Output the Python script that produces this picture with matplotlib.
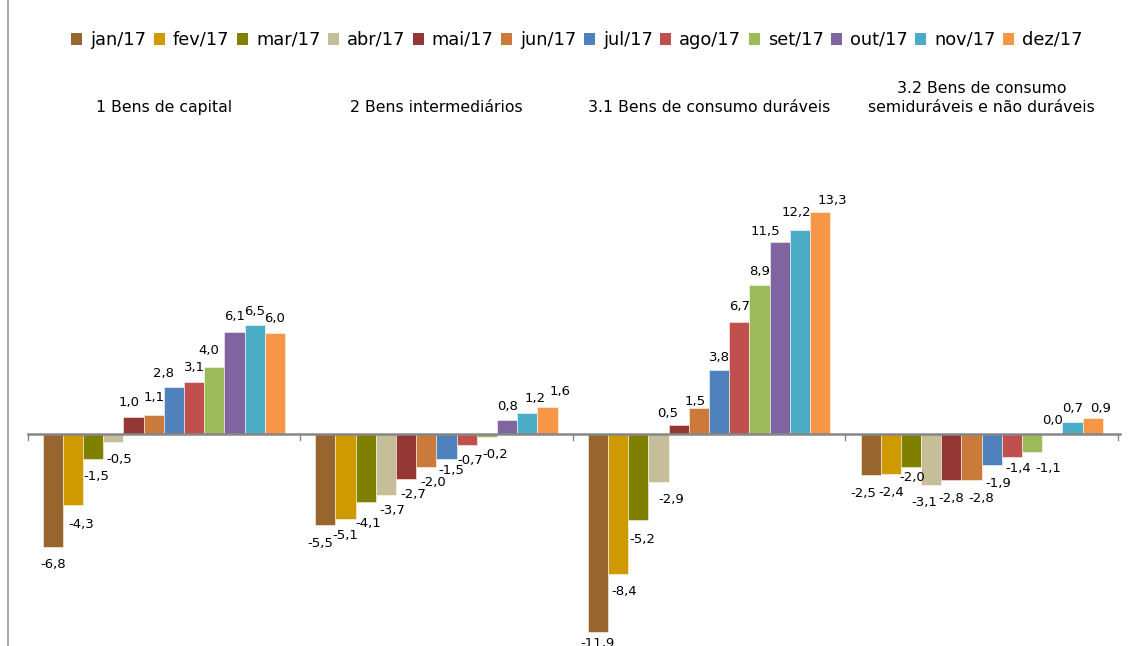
import matplotlib
matplotlib.use("Agg")
import matplotlib.pyplot as plt
from matplotlib.patches import Patch
from matplotlib.lines import Line2D
import numpy as np

plt.rcParams['font.family'] = ['DejaVu Sans']

groups = ["1 Bens de capital", "2 Bens intermediários", "3.1 Bens de consumo duráveis",
          "3.2 Bens de consumo\nsemiduráveis e não duráveis"]
months = ["jan/17", "fev/17", "mar/17", "abr/17", "mai/17", "jun/17",
          "jul/17", "ago/17", "set/17", "out/17", "nov/17", "dez/17"]
bens_capital = [-6.8, -4.3, -1.5, -0.5, 1.0, 1.1, 2.8, 3.1, 4.0, 6.1, 6.5, 6.0]
bens_intermediarios = [-5.5, -5.1, -4.1, -3.7, -2.7, -2.0, -1.5, -0.7, -0.2, 0.8, 1.2, 1.6]
bens_duraveis = [-11.9, -8.4, -5.2, -2.9, 0.5, 1.5, 3.8, 6.7, 8.9, 11.5, 12.2, 13.3]
bens_semi_nao_duraveis = [-2.5, -2.4, -2.0, -3.1, -2.8, -2.8, -1.9, -1.4, -1.1, 0.0, 0.7, 0.9]
colors = ["#98652F", "#CF9A00", "#808000", "#C6BE98", "#953735", "#CC7A3A",
          "#4F81BD", "#C0504D", "#9BBB59", "#8064A2", "#4BACC6", "#F79646"]

# label placement (layout only): pixel offsets of each label centre from the bar end
label_dx = [
    [0, 8, 3, 6, -4, 0, -10, 0, -5, 0, 0, 0],
    [-5, 0, 2, 6, 7, 7, 5, 4, 8, 0, 8, 13],
    [0, 6, 4, 13, -11, -4, 0, 0, 0, -14, -4, 12],
    [-7, 0, 1, -7, 0, 10, 6, 6, 16, 0, 0, 8],
]
label_dy = [
    [18, 19, 18, 18, -14, -18, -13, -14, -16, -15, -14, -15],
    [18, 17, 22, 15, 16, 16, 12, 15, 18, -14, -15, -15],
    [12, 18, 19, 18, -12, -7, -13, -15, -14, -10, -18, -11],
    [18, 19, 11, 17, 18, 18, 18, 12, 17, -13, -13, -10],
]

data = np.array([bens_capital, bens_intermediarios, bens_duraveis, bens_semi_nao_duraveis])

W, H = 1128, 646
fig = plt.figure(figsize=(W / 100, H / 100), dpi=100)
ax = fig.add_axes([0, 0, 1, 1])

px_per_x = 272.6
x0_px = 27.5
ax.set_xlim(-x0_px / px_per_x, 4 + (W - 1118) / px_per_x)
zero_px = 433.5
px_per_y = 16.67
ax.set_ylim(-(H - zero_px) / px_per_y, zero_px / px_per_y)

n = len(months)
bw = 1.0 / (n + 1.5)
gap = 0.75 * bw
for j in range(n):
    xs = np.arange(4) + gap + bw * j + bw / 2
    vals = data[:, j]
    ax.bar(xs, vals, width=bw, color=colors[j], edgecolor=(1, 1, 1, 0.6), linewidth=0.6, zorder=2)
    for g, (x, v) in enumerate(zip(xs, vals)):
        lab = f"{v:.1f}".replace(".", ",")
        ax.annotate(lab, (x, v), xytext=(label_dx[g][j], -label_dy[g][j]),
                    textcoords="offset pixels", ha="center", va="center",
                    fontsize=9.5, color="#000000", zorder=4)

# zero axis line and tick marks at group boundaries
ax.plot([0, 4.0 + 2 / px_per_x], [0, 0], color="#868686", lw=1.8, zorder=3)
for b in range(5):
    ax.plot([b, b], [0, -6 / px_per_y], color="#868686", lw=1.0, zorder=3)

# group titles at top
for i, g in enumerate(groups):
    ax.text(i + 0.5, (zero_px - 115) / px_per_y, g, ha="center", va="bottom",
            fontsize=11.3, linespacing=1.3, color="#000000")

for s in ax.spines.values():
    s.set_visible(False)
ax.set_xticks([])
ax.set_yticks([])

# left border line
fig.add_artist(Line2D([8 / W, 8 / W], [0, 1], color="#9a9a9a", lw=1.2, transform=fig.transFigure))

handles = [Patch(facecolor=c, edgecolor="none") for c in colors]
fig.legend(handles, months, loc="center", bbox_to_anchor=(577 / W, 1 - 40 / H), ncol=12,
           frameon=False, fontsize=12.8, handlelength=0.62, handleheight=0.62,
           handletextpad=0.45, columnspacing=0.42, borderpad=0)

fig.savefig("out.png", dpi=100)
